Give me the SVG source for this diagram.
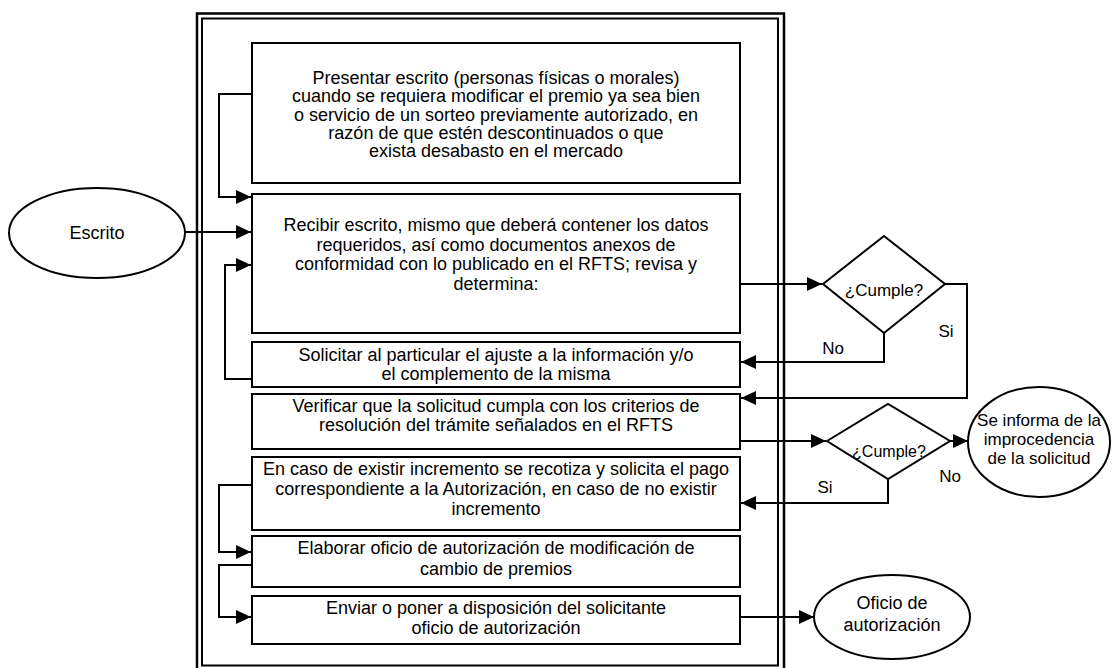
<svg xmlns="http://www.w3.org/2000/svg" width="1112" height="668" viewBox="0 0 1112 668">
<style>
.box{fill:#fff;stroke:#000;stroke-width:2}
.frame{fill:none;stroke:#000}
.t{font-family:"Liberation Sans",Arial,sans-serif;font-size:18px;fill:#000;text-anchor:middle}
.s17{font-size:17px}
.s16{font-size:16px}
.lbl{font-family:"Liberation Sans",Arial,sans-serif;font-size:17px;fill:#000;text-anchor:middle}
.c{fill:none;stroke:#000;stroke-width:2}
</style>
<defs>
<marker id="ah" markerUnits="userSpaceOnUse" markerWidth="15" markerHeight="14" refX="15" refY="7" orient="auto">
<path d="M0,0 L15,7 L0,14 z" fill="#000"/>
</marker>
</defs>
<rect width="1112" height="668" fill="#fff"/>
<g id="frame">
<rect class="frame" x="197" y="13.5" width="587" height="660" stroke-width="2.5"/>
<rect class="frame" x="202" y="18.5" width="576" height="647" stroke-width="2"/>
</g>
<g id="connectors">
<polyline class="c" points="252,94 219,94 219,197 251,197" marker-end="url(#ah)"/>
<line class="c" x1="185" y1="232" x2="251" y2="232" marker-end="url(#ah)"/>
<polyline class="c" points="252,379 225,379 225,265 251,265" marker-end="url(#ah)"/>
<line class="c" x1="740" y1="284" x2="822" y2="284" marker-end="url(#ah)"/>
<polyline class="c" points="884,333 884,362 741,362" marker-end="url(#ah)"/>
<polyline class="c" points="945,284 967,284 967,398 741,398" marker-end="url(#ah)"/>
<line class="c" x1="740" y1="441" x2="826" y2="441" marker-end="url(#ah)"/>
<line class="c" x1="950" y1="441" x2="968" y2="441" marker-end="url(#ah)"/>
<polyline class="c" points="888,479 888,503 741,503" marker-end="url(#ah)"/>
<polyline class="c" points="252,485 219,485 219,552 251,552" marker-end="url(#ah)"/>
<polyline class="c" points="252,565 219,565 219,617 251,617" marker-end="url(#ah)"/>
<line class="c" x1="740" y1="617" x2="814" y2="617" marker-end="url(#ah)"/>
<text class="lbl" x="833" y="354">No</text>
<text class="lbl" x="946" y="337">Si</text>
<text class="lbl" x="950" y="482">No</text>
<text class="lbl" x="825" y="493">Si</text>
</g>
<g id="escrito">
<ellipse class="box" cx="97" cy="233" rx="88" ry="45"/>
<text class="t" x="97" y="239">Escrito</text>
</g>
<g id="presentar">
<rect class="box" x="252" y="43" width="488" height="140"/>
<text class="t" x="496" y="84">Presentar escrito (personas físicas o morales)</text>
<text class="t" x="496" y="102">cuando se requiera modificar el premio ya sea bien</text>
<text class="t" x="496" y="121">o servicio de un sorteo previamente autorizado, en</text>
<text class="t" x="496" y="139">razón de que estén descontinuados o que</text>
<text class="t" x="496" y="157">exista desabasto en el mercado</text>
</g>
<g id="recibir">
<rect class="box" x="252" y="194" width="488" height="139"/>
<text class="t" x="496" y="231">Recibir escrito, mismo que deberá contener los datos</text>
<text class="t" x="496" y="251">requeridos, así como documentos anexos de</text>
<text class="t" x="496" y="270">conformidad con lo publicado en el RFTS; revisa y</text>
<text class="t" x="496" y="290">determina:</text>
</g>
<g id="solicitar">
<rect class="box" x="252" y="342" width="488" height="45"/>
<text class="t" x="496" y="361">Solicitar al particular el ajuste a la información y/o</text>
<text class="t" x="496" y="380">el complemento de la misma</text>
</g>
<g id="verificar">
<rect class="box" x="252" y="394" width="488" height="55"/>
<text class="t" x="496" y="412">Verificar que la solicitud cumpla con los criterios de</text>
<text class="t" x="496" y="431">resolución del trámite señalados en el RFTS</text>
</g>
<g id="recotiza">
<rect class="box" x="252" y="457" width="488" height="73"/>
<text class="t" x="496" y="475">En caso de existir incremento se recotiza y solicita el pago</text>
<text class="t" x="496" y="495">correspondiente a la Autorización, en caso de no existir</text>
<text class="t" x="496" y="515">incremento</text>
</g>
<g id="elaborar">
<rect class="box" x="252" y="536" width="488" height="51"/>
<text class="t" x="496" y="554">Elaborar oficio de autorización de modificación de</text>
<text class="t" x="496" y="575">cambio de premios</text>
</g>
<g id="enviar">
<rect class="box" x="252" y="596" width="488" height="48"/>
<text class="t" x="496" y="614">Enviar o poner a disposición del solicitante</text>
<text class="t" x="496" y="634">oficio de autorización</text>
</g>
<g id="cumple1">
<polygon class="box" points="823,284 884,236 945,284 884,333"/>
<text class="t s17" x="884" y="296">¿Cumple?</text>
</g>
<g id="cumple2">
<polygon class="box" points="827,441 888,404 950,441 888,479"/>
<text class="t s16" x="889" y="457">¿Cumple?</text>
</g>
<g id="improcedencia">
<ellipse class="box" cx="1039" cy="442" rx="71" ry="55"/>
<text class="t s17" x="1039" y="426">Se informa de la</text>
<text class="t s17" x="1039" y="445">improcedencia</text>
<text class="t s17" x="1039" y="464">de la solicitud</text>
</g>
<g id="oficio">
<ellipse class="box" cx="892" cy="617" rx="78" ry="42"/>
<text class="t" x="892" y="609">Oficio de</text>
<text class="t" x="892" y="631">autorización</text>
</g>
</svg>
